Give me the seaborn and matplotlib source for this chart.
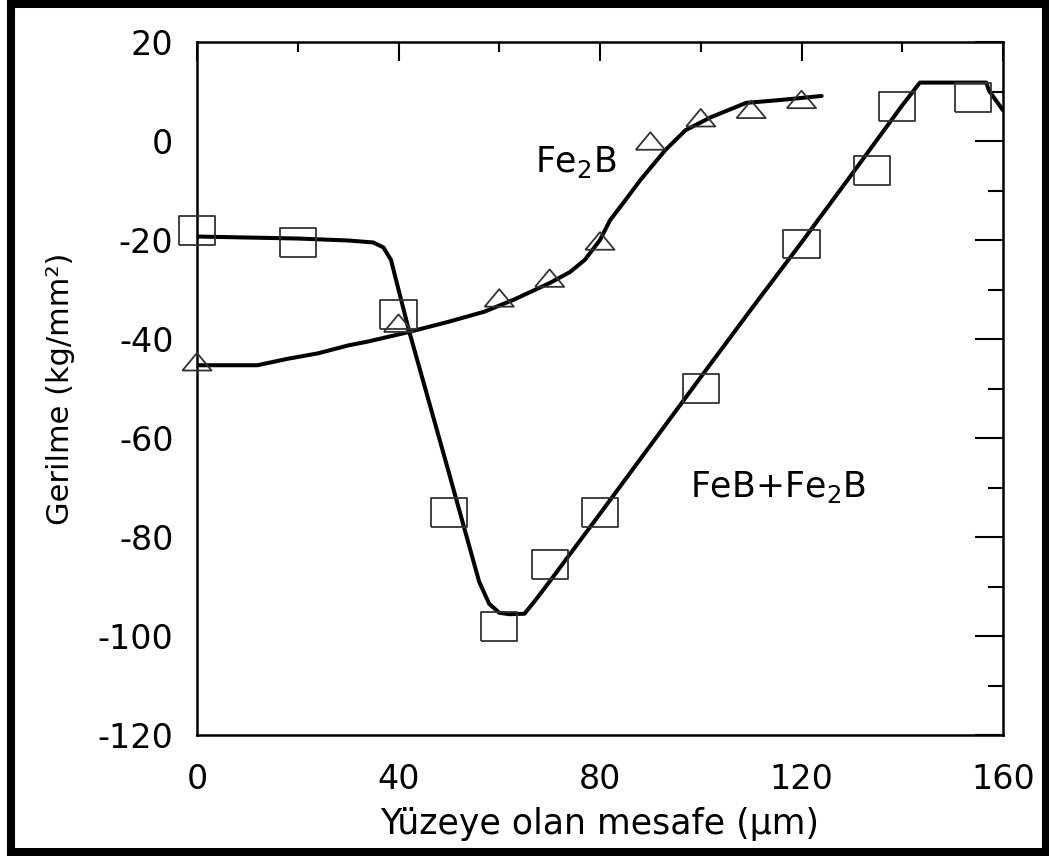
import matplotlib
matplotlib.use("Agg")
import matplotlib.pyplot as plt
from matplotlib.patches import Rectangle
from matplotlib.ticker import MultipleLocator
import seaborn as sns
import pandas as pd

# ---- data ----
# FeB+Fe2B measured points (squares)
feb_x = [0, 20, 40, 50, 60, 70, 80, 100, 120, 134, 139, 154]
feb_y = [-18, -20.5, -35, -75, -98, -85.5, -75, -50, -20.8, -6, 7, 8.7]
# FeB+Fe2B fitted curve
feb_line_x = [0, 20, 30, 35, 37, 38.5, 42, 46, 50, 53, 56, 58, 60, 62, 65, 67, 70, 80, 90, 100, 110,
              120, 130, 140, 143.5, 150, 156.7, 157.2, 160]
feb_line_y = [-19.3, -19.7, -20.1, -20.5, -21.5, -24, -38, -52.5, -67, -78, -89, -93.5, -95.3, -95.6,
              -95.5, -93, -89, -75.3, -61.5, -47.7, -34, -20.5, -6.7, 7.2, 11.8, 11.8, 11.8, 10.2, 6.2]
# Fe2B measured points (triangles)
fe2b_x = [0, 40, 60, 70, 80, 90, 100, 110, 120]
fe2b_y = [-44.6, -36.8, -31.7, -27.7, -20.2, 0, 4.7, 6.4, 8.4]
# Fe2B fitted curve
fe2b_line_x = [0, 12, 18, 24, 30, 34, 42, 50, 57, 63, 70, 74, 77, 80, 82, 85, 88, 93, 97, 102, 109, 116, 124]
fe2b_line_y = [-45.3, -45.3, -44, -42.9, -41.3, -40.5, -38.6, -36.5, -34.5, -32, -28.7, -26.5, -24,
               -20, -16, -12, -7.9, -1.8, 2.2, 4.8, 7.7, 8.3, 9.1]

x_ticks = [0, 40, 80, 120, 160]
y_ticks = [-120, -100, -80, -60, -40, -20, 0, 20]
x_label = "Yüzeye olan mesafe (μm)"
y_label = "Gerilme (kg/mm²)"
label_fe2b = "Fe$_2$B"
label_feb = "FeB+Fe$_2$B"

# ---- styling ----
sns.set_theme(style="white")
plt.rcParams["font.family"] = ["DejaVu Sans"]
plt.rcParams["axes.unicode_minus"] = False
plt.rcParams["text.color"] = "black"
plt.rcParams["axes.labelcolor"] = "black"
plt.rcParams["xtick.color"] = "black"
plt.rcParams["ytick.color"] = "black"

W, H = 1049, 856
fig = plt.figure(figsize=(W / 100, H / 100), dpi=100)
ax = fig.add_axes([197 / W, 1 - 735 / H, (1003 - 197) / W, (735 - 42) / H])

line_df1 = pd.DataFrame({"x": feb_line_x, "y": feb_line_y})
line_df2 = pd.DataFrame({"x": fe2b_line_x, "y": fe2b_line_y})
pts_df1 = pd.DataFrame({"x": feb_x, "y": feb_y})
pts_df2 = pd.DataFrame({"x": fe2b_x, "y": fe2b_y})

sns.lineplot(data=line_df1, x="x", y="y", ax=ax, color="black", lw=2.9, sort=False, estimator=None)
sns.lineplot(data=line_df2, x="x", y="y", ax=ax, color="black", lw=2.9, sort=False, estimator=None)

rect_marker = [(-1, -0.8), (1, -0.8), (1, 0.8), (-1, 0.8), (-1, -0.8)]
tri_marker = [(-1, -0.6), (1, -0.6), (0, 0.6), (-1, -0.6)]
sns.scatterplot(data=pts_df1, x="x", y="y", ax=ax, marker=rect_marker, s=26 ** 2,
                facecolor="none", edgecolor="#333333", linewidth=1.3, zorder=3, clip_on=False)
sns.scatterplot(data=pts_df2, x="x", y="y", ax=ax, marker=tri_marker, s=21 ** 2,
                facecolor="none", edgecolor="#333333", linewidth=1.3, zorder=3, clip_on=False)

ax.set_xlim(0, 160)
ax.set_ylim(-120, 20)
ax.set_xticks(x_ticks)
ax.set_yticks(y_ticks)
ax.xaxis.set_minor_locator(MultipleLocator(20))
ax.yaxis.set_minor_locator(MultipleLocator(10))
ax.tick_params(axis="both", which="both", direction="in", top=True, right=True,
               color="black", width=1.5, labelcolor="black")
ax.tick_params(axis="x", which="major", length=14, labelsize=24, pad=20)
ax.tick_params(axis="x", which="minor", length=7)
ax.tick_params(axis="y", which="major", length=20, labelsize=24, pad=17)
ax.tick_params(axis="y", which="minor", length=11)
for sp in ax.spines.values():
    sp.set_color("black")
    sp.set_linewidth(1.8)

ax.set_xlabel(x_label, fontsize=25, labelpad=8, color="black")
ax.set_ylabel(y_label, fontsize=22, labelpad=16, color="black")

ax.text(75.2, -6.3, label_fe2b, fontsize=25, ha="center", va="baseline", color="black")
ax.text(115.4, -71.9, label_feb, fontsize=25, ha="center", va="baseline", color="black")

fig.patches.append(Rectangle((11 / W, 4 / H), (1046 - 11) / W, (852 - 4) / H,
                             transform=fig.transFigure, fill=False, lw=5.8, ec="black"))

fig.savefig("out.png", dpi=100, facecolor="white")
